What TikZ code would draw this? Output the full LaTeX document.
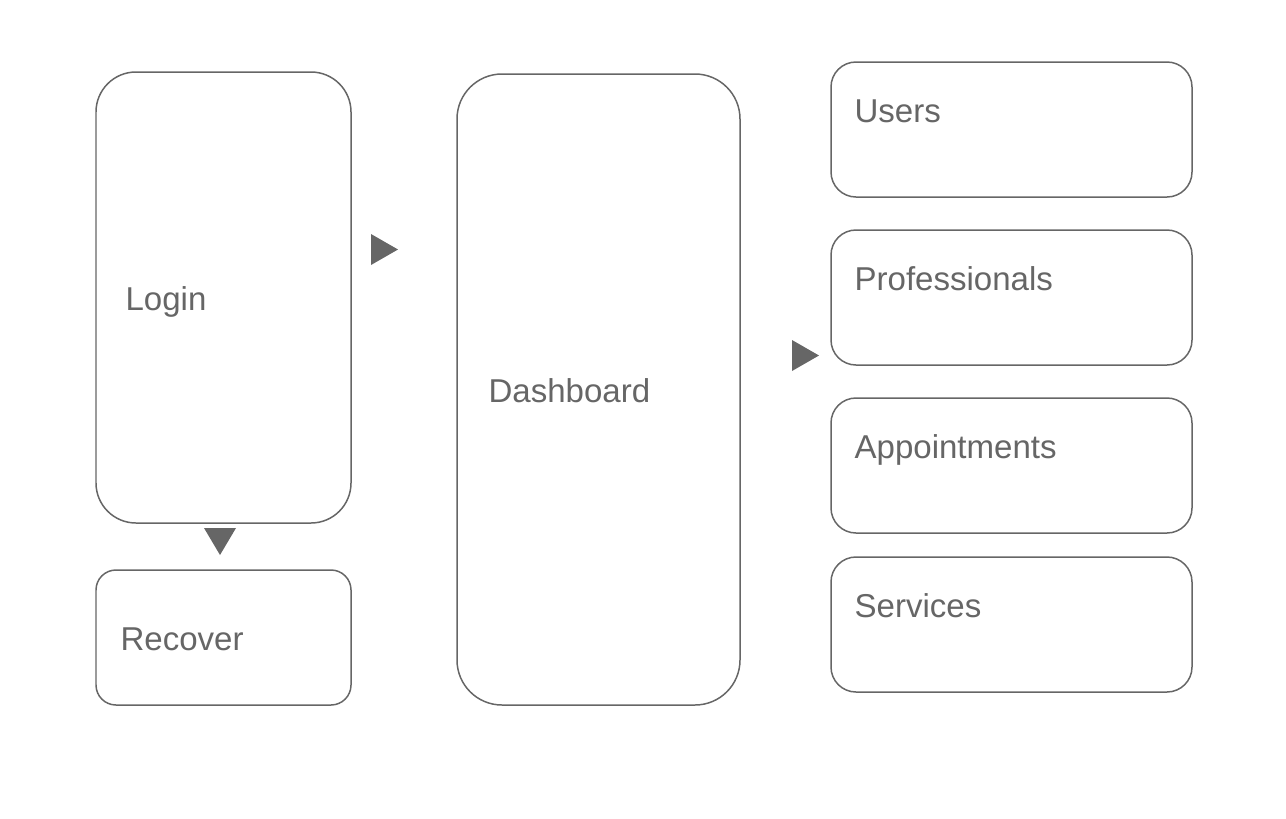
\documentclass[tikz,border=0pt]{standalone}
\usepackage{fontspec}
\setmainfont{Liberation Sans}
\usetikzlibrary{calc}
\definecolor{boxgray}{HTML}{666666}
\def\boxlabel(#1)(#2)#3{\node[lbl] at ($(#1.west)+(#2,-0.26)$) {#3};}

\begin{document}
\begin{tikzpicture}[
		box/.style={draw=boxgray, line width=0.85pt, fill=white, inner sep=0pt},
		lbl/.style={anchor=base west, inner sep=0pt, text=boxgray, font=\fontsize{18.8}{22}\selectfont}
	]
			%%%%% START %%%%%
			
			\useasboundingbox (0, 0) rectangle (25.72, -16.36);
			
			\node[box, rounded corners=0.8cm, minimum width=5.1cm, minimum height=9.02cm] (login) at (4.47, -5.95) {};
			\node[box, rounded corners=0.4cm, minimum width=5.1cm, minimum height=2.7cm] (recover) at (4.47, -12.75) {};
			\node[box, rounded corners=0.9cm, minimum width=5.66cm, minimum height=12.62cm] (dashboard) at (11.97, -7.79) {};
			
			\node[box, rounded corners=0.5cm, minimum width=7.22cm, minimum height=2.7cm] (users) at (20.23, -2.59) {};
			\node[box, rounded corners=0.5cm, minimum width=7.22cm, minimum height=2.7cm] (professionals) at (20.23, -5.95) {};
			\node[box, rounded corners=0.5cm, minimum width=7.22cm, minimum height=2.7cm] (appointments) at (20.23, -9.31) {};
			\node[box, rounded corners=0.5cm, minimum width=7.22cm, minimum height=2.7cm] (services) at (20.23, -12.49) {};
			
			\boxlabel(login)(0.6){Login}
			\boxlabel(recover)(0.5){Recover}
			\boxlabel(dashboard)(0.64){Dashboard}
			\node[lbl] at ($(users.north west)+(0.48,-1.22)$) {Users};
			\node[lbl] at ($(professionals.north west)+(0.48,-1.22)$) {Professionals};
			\node[lbl] at ($(appointments.north west)+(0.48,-1.22)$) {Appointments};
			\node[lbl] at ($(services.north west)+(0.48,-1.22)$) {Services};
			
			% pointers
			\fill[boxgray] (7.42, -4.68) -- (7.96, -4.99) -- (7.42, -5.30) -- cycle;
			\fill[boxgray] (4.08, -10.56) -- (4.72, -10.56) -- (4.40, -11.10) -- cycle;
			\fill[boxgray] (15.84, -6.80) -- (16.38, -7.11) -- (15.84, -7.42) -- cycle;
			
			%%%%% END %%%%%
\end{tikzpicture}
\end{document}
